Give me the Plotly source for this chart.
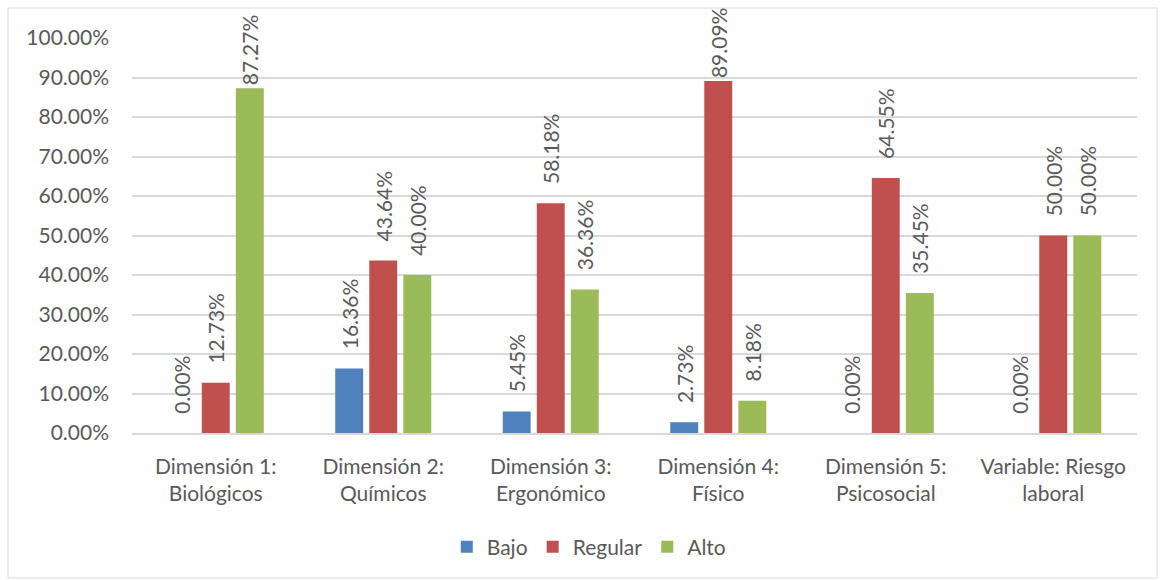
import plotly.graph_objects as go

categories = ["Dimensión 1:<br>Biológicos", "Dimensión 2:<br>Químicos", "Dimensión 3:<br>Ergonómico",
              "Dimensión 4:<br>Físico", "Dimensión 5:<br>Psicosocial", "Variable: Riesgo<br>laboral"]
bajo = [0.00, 16.36, 5.45, 2.73, 0.00, 0.00]
regular = [12.73, 43.64, 58.18, 89.09, 64.55, 50.00]
alto = [87.27, 40.00, 36.36, 8.18, 35.45, 50.00]
series = [("Bajo", bajo, "#4F81BD"), ("Regular", regular, "#C0504D"), ("Alto", alto, "#9BBB59")]

FONT = "Lato"
TXT = "#595959"
FS = 21


def label(v):
    # Excel-like gap above bar; labels near the top are pushed down to fit the chart
    pad = "\u00a0" * 3 if v < 75 else ""
    return f"{pad}{v:.2f}%"


fig = go.Figure()
for name, vals, color in series:
    fig.add_trace(go.Bar(
        x=categories, y=vals, name=name, marker=dict(color=color, line=dict(width=0)),
        text=[label(v) for v in vals], textposition="outside", textangle=-90,
        textfont=dict(family=FONT, size=FS, color=TXT), cliponaxis=False,
        constraintext="none",
    ))

L, R, T, B = 132, 29, 38, 147
W, H = 1166, 580
pw, ph = W - L - R, H - T - B

fig.update_layout(
    width=W, height=H, margin=dict(l=L, r=R, t=T, b=B),
    paper_bgcolor="white", plot_bgcolor="white",
    barmode="group", bargap=0.39, bargroupgap=0.18,
    font=dict(family=FONT, size=FS, color=TXT),
    showlegend=True,
    legend=dict(orientation="h", x=0.455, xanchor="center", y=(T + ph - 547) / ph, yanchor="middle",
                font=dict(family=FONT, size=FS, color=TXT), itemwidth=30, traceorder="normal"),
    xaxis=dict(showgrid=False, showline=True, linecolor="#D9D9D9", linewidth=1.5,
               tickfont=dict(family=FONT, size=FS, color=TXT), ticks="", ticklabelstandoff=14),
    yaxis=dict(range=[0, 100], dtick=10, tickformat=".2f", ticksuffix="%", showgrid=True,
               gridcolor="#D9D9D9", gridwidth=1.5, zeroline=False, showline=False,
               tickfont=dict(family=FONT, size=FS, color=TXT), ticklabelstandoff=22),
    shapes=[dict(type="rect", xref="paper", yref="paper",
                 x0=(8 - L) / pw, x1=(1157 - L) / pw, y0=(T + ph - 578) / ph, y1=(T + ph - 8) / ph,
                 line=dict(color="#D9D9D9", width=1), fillcolor="rgba(0,0,0,0)", layer="below")],
)

fig.write_html("out.html")
